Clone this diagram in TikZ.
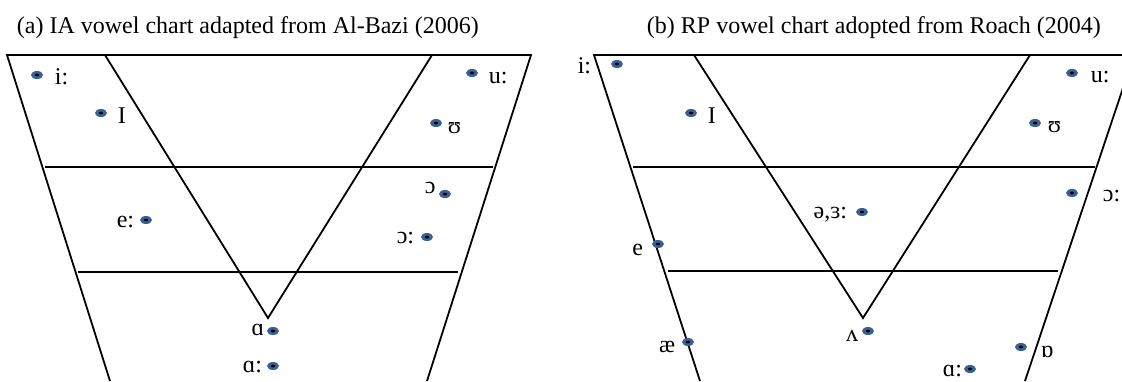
\documentclass[tikz,border=0pt]{standalone}
\usepackage{fontspec}
\setmainfont{Liberation Serif}
\usetikzlibrary{shapes.geometric}
\definecolor{vowelblue}{RGB}{56,98,150}
\tikzset{vdot/.style={ellipse,fill=vowelblue,minimum width=6pt,minimum height=4pt,inner sep=0pt,
  path picture={\fill[black] (path picture bounding box.center) ellipse (1.1pt and 0.7pt);}},
  vlab/.style={inner sep=0pt,font=\fontsize{12}{14}\selectfont}}
\begin{document}
\begin{tikzpicture}[x=0.5pt,y=-0.5pt,line width=0.9pt]
\useasboundingbox (0,0) rectangle (1122,381);
\clip (0,0) rectangle (1122,381);
\node[vlab,anchor=base west] (titlea) at (16,33) {(a) IA vowel chart adapted from Al-Bazi (2006)};
\node[vlab,anchor=base west] (titleb) at (646,33) {(b) RP vowel chart adopted from Roach (2004)};
\draw (110,381) -- (7,55) -- (531,55) -- (427,381);
\draw (45,167) -- (493,167);
\draw (78,272) -- (458,272);
\draw (105,55) -- (268,318) -- (432,55);
\draw (700,381) -- (594,55) -- (1140,55);
\draw (1134,55) -- (1025,381);
\draw (633,167) -- (1095,167);
\draw (668,271) -- (1058,271);
\draw (694,55) -- (863,318) -- (1030,55);
\foreach \name/\x/\y in {ia/37/75, Ia/101/113, ua/472/73, Ua/436/123, oa/445/194, Oa/427/237,
    ea/146/220, aa/273/331, Aa/273/366, ib/617/64, Ib/691/113, ub/1072/73, Ub/1035/123,
    Ob/1072/193, zb/862/212, eb/658/244, xb/688/342, vb/868/331, qb/1021/347, Ab/970/369}
  \node[vdot] (\name) at (\x,\y) {};
\foreach \name/\x/\y/\anc/\txt in {lia/54/84/base west/i:, lIa/117/123/base west/I,
    lua/488/83/base west/u:, lUa/447/133/base west/ʊ, loa/424/193/base west/ɔ,
    lOa/415/243/base east/ɔ:, lea/135/227/base east/e:, laa/265/335/base east/ɑ,
    lAa/263/372/base east/ɑ:, lib/592/73/base east/i:, lIb/707/123/base west/I,
    lub/1090/82/base west/u:, lUb/1047/132/base west/ʊ, lOb/1102/201/base west/ɔ:,
    lzb/848/218/base east/{ə,ɜ:}, leb/644/255/base east/e, lxb/676/352/base east/æ,
    lvb/859/341/base east/ʌ, lqb/1040/357/base west/ɒ, lAb/963/376/base east/ɑ:}
  \node[vlab,anchor=\anc] (\name) at (\x,\y) {\txt};
\end{tikzpicture}
\end{document}
